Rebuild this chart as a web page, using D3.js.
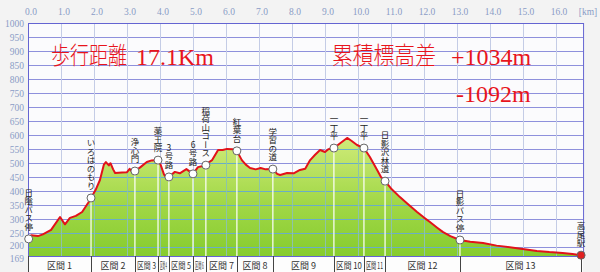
<!DOCTYPE html>
<meta charset="utf-8">
<style>
body { margin: 0; background: #f3f3f3; }
svg { display: block; }
.tick-label { font-family: "Liberation Serif", serif; font-size: 9.5px; fill: #8a9cc6; }
.big { font-family: "Liberation Serif", "Noto Sans CJK JP", serif; font-size: 24px; font-weight: 300; fill: #e8141c; }
.wp-label { font-family: "Noto Sans CJK JP", sans-serif; font-size: 8.5px; fill: #222;
  writing-mode: vertical-rl; text-orientation: upright; }
.sec-label { font-family: "Noto Sans CJK JP", sans-serif; font-size: 9px; fill: #333; }
</style>
<svg></svg>
<script src="https://cdn.jsdelivr.net/npm/d3@7"></script>
<script>

var width = 600,
    height = 272;

// elevation profile
var distKm = [0.00, 0.10, 0.30, 0.45, 0.70, 0.97, 1.12, 1.27, 1.45, 1.64, 1.82, 1.91, 2.05, 2.18, 2.30,
  2.36, 2.45, 2.50, 2.58, 2.64, 2.85, 3.00, 3.08, 3.15, 3.24, 3.40, 3.60, 3.75, 3.94, 4.02, 4.12,
  4.20, 4.27, 4.45, 4.60, 4.80, 5.00, 5.15, 5.30, 5.39, 5.50, 5.58, 5.76, 5.90, 6.03, 6.20, 6.33,
  6.48, 6.60, 6.73, 6.90, 7.05, 7.20, 7.42, 7.55, 7.64, 7.85, 8.05, 8.24, 8.40, 8.55, 8.70, 8.85,
  9.00, 9.10, 9.27, 9.45, 9.67, 9.80, 9.97, 10.18, 10.36, 10.58, 10.70, 10.82, 11.00, 11.27, 11.50,
  11.79, 12.00, 12.18, 12.40, 12.58, 12.80, 13.09, 13.40, 13.79, 14.20, 14.82, 15.10, 15.42, 15.80,
  16.20, 16.50, 16.76];
var elevM = [230, 243, 240, 246, 262, 308, 282, 305, 312, 326, 358, 376, 405, 440, 495,
  504, 492, 500, 478, 465, 467, 468, 480, 470, 472, 485, 504, 510, 511, 494, 460,
  447, 451, 469, 464, 479, 462, 486, 490, 493, 505, 511, 547, 547, 551, 550, 544,
  511, 495, 483, 478, 483, 478, 479, 462, 458, 465, 464, 476, 480, 511, 530, 547,
  540, 550, 554, 570, 590, 580, 565, 554, 522, 476, 450, 436, 410, 379, 355,
  326, 306, 290, 270, 254, 240, 226, 220, 215, 206, 197, 192, 187, 183,
  180, 176, 172];

// way points
var wpNames = ["日陰バス停", "いろはのもり", "浄心門", "薬王院", "3号路", "6号路", "稲荷山コース",
  "紅葉台", "学習の道", "一丁平", "一丁平", "日影沢林道", "日影バス停", "高尾駅"];
var wpKm = [0.02, 1.91, 3.24, 3.94, 4.27, 5.00, 5.39, 6.33, 7.42, 9.27, 10.18, 10.82, 13.09, 16.76];
var wpElev = [230, 376, 472, 511, 451, 462, 493, 544, 479, 554, 554, 436, 226, 172];

var secNames = ["区間 1", "区間 2", "区間 3", "区間 4", "区間 5", "区間 6", "区間 7", "区間 8",
  "区間 9", "区間 10", "区間 11", "区間 12", "区間 13"];

var xTickLabels = ["0.0", "1.0", "2.0", "3.0", "4.0", "5.0", "6.0", "7.0", "8.0", "9.0", "10.0",
  "11.0", "12.0", "13.0", "14.0", "15.0", "16.0"];
var yTickValues = [200, 250, 300, 350, 400, 450, 500, 550, 600, 650, 700, 750, 800, 850, 900, 950, 1000];

var x = d3.scaleLinear().domain([0, 16]).range([28, 556]);
var y = d3.scaleLinear().domain([169, 1000]).range([256, 23]);
var xMax = 16.82;

var svg = d3.select("svg")
    .attr("width", width)
    .attr("height", height);

// squeeze a text horizontally so that it is at most w wide
function fitText(sel, tx, ty, w, anchorMiddle) {
  sel.each(function() {
    var len = this.getComputedTextLength();
    var k = Math.min(1, w / len);
    d3.select(this)
      .attr("x", 0).attr("y", 0)
      .attr("transform", "translate(" + tx + "," + ty + ") scale(" + k + ",1)");
  });
}

var defs = svg.append("defs");
var grad = defs.append("linearGradient")
    .attr("id", "fillGrad")
    .attr("gradientUnits", "userSpaceOnUse")
    .attr("x1", 0).attr("x2", 0)
    .attr("y1", y(600)).attr("y2", y(169));
grad.append("stop").attr("offset", "0%").attr("stop-color", "#d2ec7c");
grad.append("stop").attr("offset", "55%").attr("stop-color", "#a2d848");
grad.append("stop").attr("offset", "100%").attr("stop-color", "#86cc2e");

var pts = distKm.map(function(d, i) { return [d, elevM[i]]; });

var area = d3.area()
    .x(function(d) { return x(d[0]); })
    .y0(y(169))
    .y1(function(d) { return y(d[1]); });

var line = d3.line()
    .x(function(d) { return x(d[0]); })
    .y(function(d) { return y(d[1]); });

defs.append("clipPath").attr("id", "areaClip")
  .append("path").attr("d", area(pts));

// plot background
svg.append("rect")
    .attr("x", x(0)).attr("y", y(1000))
    .attr("width", x(xMax) - x(0)).attr("height", y(169) - y(1000))
    .attr("fill", "#fbfbfd");

svg.append("rect")
    .attr("x", x(0)).attr("y", y(169))
    .attr("width", x(xMax) - x(0)).attr("height", height - y(169))
    .attr("fill", "#fdfdfd");

function drawGrid(g, hColor, vColor) {
  g.selectAll("line.h")
    .data(yTickValues)
    .enter().append("line")
      .attr("x1", x(0)).attr("x2", x(xMax))
      .attr("y1", function(d) { return y(d); })
      .attr("y2", function(d) { return y(d); })
      .attr("stroke", hColor);
  g.selectAll("line.v")
    .data(d3.range(1, 17))
    .enter().append("line")
      .attr("x1", function(d) { return x(d); })
      .attr("x2", function(d) { return x(d); })
      .attr("y1", y(1000)).attr("y2", y(169))
      .attr("stroke", vColor);
}

drawGrid(svg.append("g").attr("shape-rendering", "crispEdges"), "#8e90dc", "#c4cce6");

svg.append("path")
    .datum(pts)
    .attr("d", area)
    .attr("fill", "url(#fillGrad)");

drawGrid(svg.append("g").attr("clip-path", "url(#areaClip)").attr("shape-rendering", "crispEdges"),
  "#6aaec6", "#8cc4a8");

// white lines under each way point
svg.append("g")
  .selectAll("line")
  .data(wpKm.slice(1, -1))
  .enter().append("line")
    .attr("x1", function(d) { return x(d); })
    .attr("x2", function(d) { return x(d); })
    .attr("y1", function(d, i) { return y(wpElev[i + 1]); })
    .attr("y2", y(169))
    .attr("stroke", "#ffffff")
    .attr("stroke-width", 1.2);

svg.append("path")
    .datum(pts)
    .attr("d", line)
    .attr("fill", "none")
    .attr("stroke", "#e2121a")
    .attr("stroke-width", 2)
    .attr("stroke-linejoin", "round");

// frame
svg.append("rect")
    .attr("x", x(0) + 0.5).attr("y", y(1000) + 0.5)
    .attr("width", x(xMax) - x(0)).attr("height", y(169) - y(1000))
    .attr("fill", "none")
    .attr("stroke", "#6464d2");

// axis labels
svg.append("g")
  .selectAll("text")
  .data(yTickValues.concat([169]))
  .enter().append("text")
    .attr("class", "tick-label")
    .attr("x", 24)
    .attr("y", function(d) {
      // 200 and 169 sit very close: nudge them apart a little
      if (d === 200) return y(d) + 2;
      if (d === 169) return y(d) + 5.5;
      return y(d) + 3.5;
    })
    .attr("text-anchor", "end")
    .text(function(d) { return d; });

svg.append("g")
  .selectAll("text")
  .data(xTickLabels)
  .enter().append("text")
    .attr("class", "tick-label")
    .attr("x", function(d, i) { return x(i) + 3; })
    .attr("y", 15)
    .attr("text-anchor", "middle")
    .text(function(d) { return d; });

svg.append("text")
    .attr("class", "tick-label")
    .attr("x", 588).attr("y", 15)
    .attr("text-anchor", "middle")
    .text("[km]");

// section row
var secEdges = wpKm.map(function(d) { return x(d); });
secEdges[0] = x(0);

var sec = svg.append("g");
sec.selectAll("text")
  .data(secNames)
  .enter().append("text")
    .attr("class", "sec-label")
    .attr("text-anchor", "middle")
    .text(function(d) { return d; })
    .each(function(d, i) {
      fitText(d3.select(this), (secEdges[i] + secEdges[i + 1]) / 2, 269,
        secEdges[i + 1] - secEdges[i] - 4);
    });

sec.selectAll("line")
  .data(secEdges)
  .enter().append("line")
    .attr("x1", function(d) { return Math.round(d) + 0.5; })
    .attr("x2", function(d) { return Math.round(d) + 0.5; })
    .attr("y1", y(169))
    .attr("y2", height)
    .attr("stroke", "#444");

// way point markers and labels
var wp = svg.append("g");
wp.selectAll("circle")
  .data(wpKm)
  .enter().append("circle")
    .attr("cx", function(d) { return x(d); })
    .attr("cy", function(d, i) { return y(wpElev[i]); })
    .attr("r", 4)
    .attr("fill", function(d, i) { return i === wpKm.length - 1 ? "#e02020" : "#ffffff"; })
    .attr("stroke", "#666")
    .attr("stroke-width", 1);

wp.selectAll("text")
  .data(wpNames)
  .enter().append("text")
    .attr("class", "wp-label")
    .attr("x", function(d, i) { return x(wpKm[i]); })
    .attr("y", function(d, i) { return y(wpElev[i]) - 8; })
    .attr("text-anchor", "end")
    .text(function(d) { return d; });

// headline texts
var big = svg.append("g");
fitText(big.append("text").attr("class", "big").text("歩行距離"), 51, 64, 76);
fitText(big.append("text").attr("class", "big").text("17.1Km"), 136, 65, 85);
fitText(big.append("text").attr("class", "big").text("累積標高差"), 332, 64, 104);
fitText(big.append("text").attr("class", "big").text("+1034m"), 451, 65, 81);
fitText(big.append("text").attr("class", "big").text("-1092m"), 456, 102, 76);

</script>
